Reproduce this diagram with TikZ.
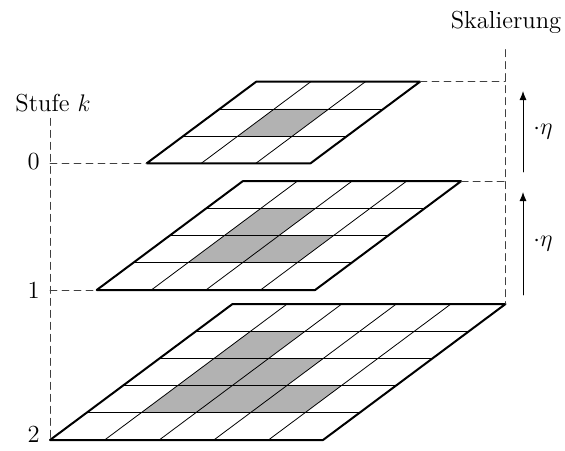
\documentclass[tikz,border=0pt]{standalone}
\usetikzlibrary{arrows.meta}

% Stile
\tikzset{
  rand/.style={line width=1pt},
  gitter/.style={line width=0.4pt},
  zelle/.style={fill=black!30},
  hilfslinie/.style={dash pattern=on 3.5pt off 2.5pt, black!75, line width=0.45pt},
  pfeil/.style={-{Latex[length=4.5pt,width=3.5pt]}, line width=0.45pt},
  beschriftung/.style={inner sep=1pt, font=\fontsize{12.3}{14}\selectfont},
}

% Ebene: #1 Name, #2 Zellen je Seite, #3 Ecke unten links
\newcommand{\ebene}[3]{%
  \begin{scope}[shift={#3}, x={(27.3pt,0pt)}, y={(18.25pt,13.6pt)}]
    \pgfmathtruncatemacro{\anz}{#2-1}
    % graue Zellen
    \foreach \i in {1,...,\anz} \foreach \j in {1,...,\anz} {
      \pgfmathtruncatemacro{\summe}{\i+\j}
      \ifnum\summe<#2
        \fill[zelle] (\i,\j) -- ++(1,0) -- ++(0,1) -- ++(-1,0) -- cycle;
      \fi
    }
    % Gitterlinien
    \foreach \k in {1,...,\anz} {
      \draw[gitter] (\k,0) -- (\k,#2);
      \draw[gitter] (0,\k) -- (#2,\k);
    }
    % Rand
    \draw[rand] (0,0) -- (#2,0) -- (#2,#2) -- (0,#2) -- cycle;
    \coordinate (#1-ul) at (0,0);
    \coordinate (#1-or) at (#2,#2);
  \end{scope}
}

\begin{document}
\begin{tikzpicture}[x=0.5pt, y=-0.5pt, line cap=round, line join=round]
  \useasboundingbox (0,0) rectangle (565,450);

  % Ebenen
  \ebene{oben}{3}{(146.7,163.3)}
  \ebene{mitte}{4}{(96.7,290)}
  \ebene{unten}{5}{(50,440)}

  % Beschriftungen
  \node[beschriftung] (skal) at (506,22) {Skalierung};
  \node[beschriftung] (stufe) at (53,103) {Stufe $k$};
  \node[beschriftung, anchor=east] (s0) at (42,162) {0};
  \node[beschriftung, anchor=east] (s1) at (42,290) {1};
  \node[beschriftung, anchor=east] (s2) at (42,434) {2};

  % Hilfslinien links
  \coordinate (stufe-fuss) at ([yshift=-2pt]stufe.south);
  \draw[hilfslinie] (stufe-fuss -| unten-ul) -- (unten-ul);
  \draw[hilfslinie] (oben-ul -| unten-ul) -- (oben-ul);
  \draw[hilfslinie] (mitte-ul -| unten-ul) -- (mitte-ul);

  % Hilfslinien rechts
  \coordinate (skal-fuss) at ([yshift=-7pt]skal.south);
  \draw[hilfslinie] (skal-fuss -| unten-or) -- (unten-or);
  \draw[hilfslinie] (oben-or) -- (oben-or -| unten-or);
  \draw[hilfslinie] (mitte-or) -- (mitte-or -| unten-or);

  % Skalierungspfeile
  \coordinate (e1) at (523,295);
  \coordinate (e2) at (523,192);
  \coordinate (e3) at (523,172);
  \coordinate (e4) at (523,91);
  \draw[pfeil] (e1) -- node[beschriftung, right, xshift=4pt] {$\cdot\eta$} (e2);
  \draw[pfeil] (e3) -- node[beschriftung, right, xshift=4pt] {$\cdot\eta$} (e4);
\end{tikzpicture}
\end{document}
